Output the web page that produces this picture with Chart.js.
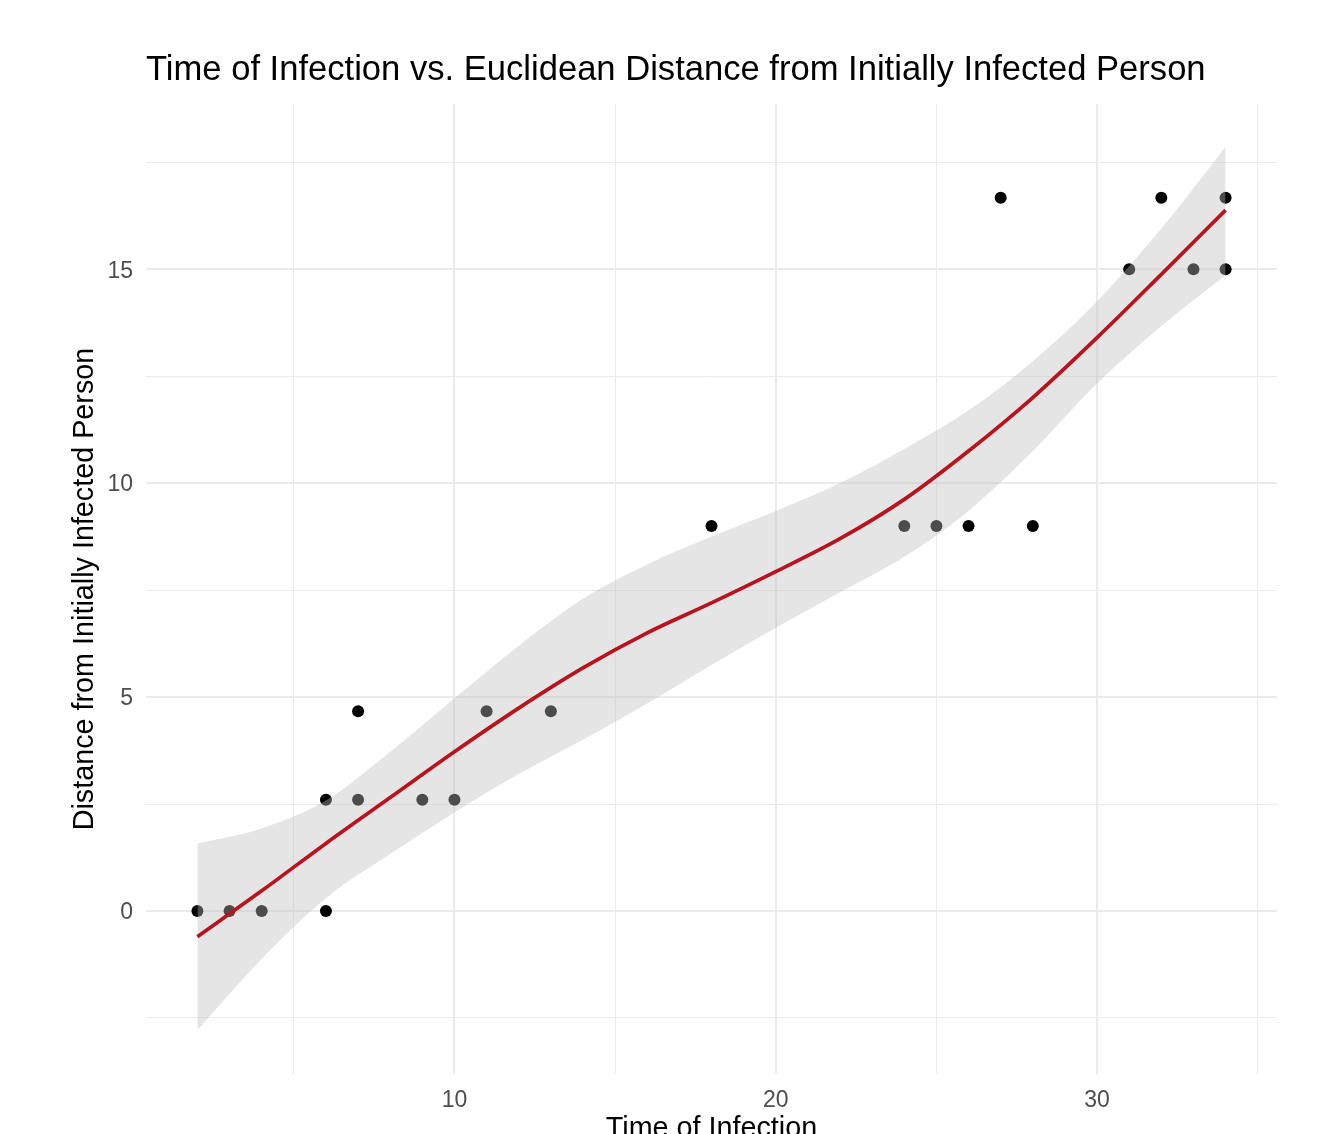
<!DOCTYPE html>
<html>
<head>
<meta charset="utf-8">
<script src="https://cdn.jsdelivr.net/npm/chart.js@4/dist/chart.umd.min.js"></script>
<style>
  html, body { margin: 0; padding: 0; background: #ffffff; }
  #wrap { width: 1330px; height: 1134px; }
</style>
</head>
<body>
<div id="wrap"><canvas id="c" width="1330" height="1134"></canvas></div>
<script>
// ---- data ----
const timeOfInfection = [2, 3, 4, 6, 6, 7, 7, 9, 10, 11, 13, 18, 24, 25, 26, 27, 28, 31, 32, 33, 34, 34];
const distance        = [0, 0, 0, 0, 2.6, 2.6, 4.67, 2.6, 2.6, 4.67, 4.67, 9, 9, 9, 9, 16.67, 9, 15, 16.67, 15, 16.67, 15];

// smoothed fit (loess) and its confidence band, read every 2 time units
const fitX     = [2, 4, 6, 8, 10, 12, 14, 16, 18, 20, 22, 24, 26, 28, 30, 32, 34];
const fitY     = [-0.60, 0.47, 1.58, 2.65, 3.72, 4.74, 5.68, 6.50, 7.20, 7.93, 8.70, 9.62, 10.75, 12.00, 13.40, 14.88, 16.38];
const fitLower = [-2.78, -1.12, 0.30, 1.33, 2.30, 3.20, 4.00, 4.85, 5.75, 6.62, 7.45, 8.28, 9.35, 10.75, 12.33, 13.67, 14.86];
const fitUpper = [1.58, 1.93, 2.58, 3.72, 4.97, 6.20, 7.30, 8.10, 8.75, 9.35, 10.00, 10.80, 11.70, 12.85, 14.25, 15.95, 17.86];

const xGridValues = [5, 10, 15, 20, 25, 30, 35];
const xLabelValues = [10, 20, 30];
const yGridValues = [-2.5, 0, 2.5, 5, 7.5, 10, 12.5, 15, 17.5];
const yLabelValues = [0, 5, 10, 15];

const titleText = 'Time of Infection vs. Euclidean Distance from Initially Infected Person';
const xTitleText = 'Time of Infection';
const yTitleText = 'Distance from Initially Infected Person';

// ---- build datasets ----
const pts = timeOfInfection.map((x, i) => ({ x: x, y: distance[i] }));
const fitPts = fitX.map((x, i) => ({ x: x, y: fitY[i] }));
const lowPts = fitX.map((x, i) => ({ x: x, y: fitLower[i] }));
const upPts = fitX.map((x, i) => ({ x: x, y: fitUpper[i] }));

const FONT = '"Liberation Sans", Arial, Helvetica, sans-serif';
const GRID = '#EBEBEB';

new Chart(document.getElementById('c'), {
  type: 'line',
  data: {
    datasets: [
      { label: 'fit', data: fitPts, order: 0, borderColor: '#B8141E', borderWidth: 3.7,
        pointRadius: 0, fill: false, cubicInterpolationMode: 'monotone' },
      { label: 'lower', data: lowPts, order: 1, borderWidth: 0, borderColor: 'rgba(0,0,0,0)',
        pointRadius: 0, fill: false, cubicInterpolationMode: 'monotone' },
      { label: 'upper', data: upPts, order: 1, borderWidth: 0, borderColor: 'rgba(0,0,0,0)',
        pointRadius: 0, fill: 1, backgroundColor: 'rgba(190,190,190,0.4)', cubicInterpolationMode: 'monotone' },
      { label: 'points', data: pts, order: 2, showLine: false, pointRadius: 6, pointHoverRadius: 6,
        pointBackgroundColor: '#000000', pointBorderWidth: 0, borderColor: '#000000' }
    ]
  },
  options: {
    responsive: false,
    animation: false,
    events: [],
    layout: { padding: { left: 0, right: 53, top: 0, bottom: 0 } },
    plugins: {
      legend: { display: false },
      tooltip: { enabled: false },
      title: {
        display: true, text: titleText, align: 'start', fullSize: false,
        color: '#000000', font: { family: FONT, size: 34.6, weight: 'normal', lineHeight: 1.2 },
        padding: { top: 49.8, bottom: 12.7 }
      },
      filler: { propagate: false }
    },
    scales: {
      x: {
        type: 'linear', min: 0.4, max: 35.6,
        afterBuildTicks: s => { s.ticks = xGridValues.map(v => ({ value: v })); },
        afterFit: s => { s.height = 60; },
        border: { display: false },
        grid: { color: GRID, drawTicks: false,
          lineWidth: c => (c.tick && xLabelValues.includes(c.tick.value)) ? 2 : 1 },
        ticks: { autoSkip: false, maxRotation: 0, padding: 13, color: '#4D4D4D',
          font: { family: FONT, size: 23 },
          callback: v => xLabelValues.includes(v) ? String(v) : '' },
        title: { display: true, text: xTitleText, color: '#000000',
          font: { family: FONT, size: 28.75, lineHeight: 1.2 }, padding: { top: 0, bottom: -12.25 } }
      },
      y: {
        type: 'linear', min: -3.81, max: 18.86,
        afterBuildTicks: s => { s.ticks = yGridValues.map(v => ({ value: v })); },
        afterFit: s => { s.width = 146; },
        border: { display: false },
        grid: { color: GRID, drawTicks: false,
          lineWidth: c => (c.tick && yLabelValues.includes(c.tick.value)) ? 2 : 1 },
        ticks: { autoSkip: false, padding: 13, labelOffset: 2, color: '#4D4D4D',
          font: { family: FONT, size: 23 },
          callback: v => yLabelValues.includes(v) ? String(v) : '' },
        title: { display: true, text: yTitleText, color: '#000000',
          font: { family: FONT, size: 28.75, lineHeight: 1.2 }, padding: { top: 67.5, bottom: 0 } }
      }
    }
  }
});
</script>
</body>
</html>
